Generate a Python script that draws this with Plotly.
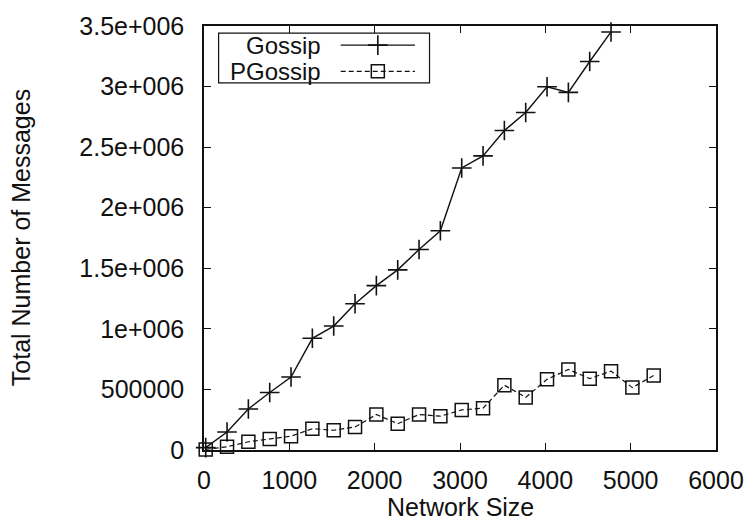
import plotly.graph_objects as go

# Network sizes at which each protocol was measured
gossip_sizes = [20, 270, 520, 770, 1020, 1270, 1520, 1770, 2020, 2270,
                2520, 2770, 3020, 3270, 3520, 3770, 4020, 4270, 4520, 4770]
gossip_msgs = [20000, 149000, 339000, 475000, 602000, 922000, 1023000, 1207000,
               1357000, 1487000, 1655000, 1810000, 2328000, 2428000, 2637000,
               2786000, 2998000, 2952000, 3207000, 3451000]

pgossip_sizes = [20, 270, 520, 770, 1020, 1270, 1520, 1770, 2020, 2270, 2520,
                 2770, 3020, 3270, 3520, 3770, 4020, 4270, 4520, 4770, 5020, 5270]
pgossip_msgs = [5000, 27000, 68000, 90000, 114000, 176000, 163000, 190000,
                293000, 217000, 293000, 279000, 331000, 345000, 535000, 434000,
                583000, 665000, 589000, 651000, 515000, 616000]

x_ticks = [0, 1000, 2000, 3000, 4000, 5000, 6000]
y_ticks = [0, 500000, 1000000, 1500000, 2000000, 2500000, 3000000, 3500000]
y_tick_text = ["0", "500000", "1e+006", "1.5e+006", "2e+006", "2.5e+006",
               "3e+006", "3.5e+006"]

series_names = ["Gossip", "PGossip"]

FONT = "Liberation Sans, Arial, Helvetica, sans-serif"
FS = 25
DASH = "5px,3px"
INK = "#111111"

fig = go.Figure()

fig.add_trace(go.Scatter(
    x=pgossip_sizes, y=pgossip_msgs, mode="lines+markers", name=series_names[1],
    line=dict(color=INK, width=1.2, dash=DASH),
    marker=dict(symbol="square-open", size=13, color=INK, line=dict(width=1.5)),
    cliponaxis=False, showlegend=False))

fig.add_trace(go.Scatter(
    x=gossip_sizes, y=gossip_msgs, mode="lines+markers", name=series_names[0],
    line=dict(color=INK, width=1.4),
    marker=dict(symbol="cross-thin-open", size=14, color=INK, line=dict(width=1.6)),
    cliponaxis=False, showlegend=False))

# ---- gnuplot-style key (label on the left, sample on the right) ----
key_box = dict(x0=0.0285, x1=0.4405, y0=0.866, y1=0.983)
key_rows = [0.955, 0.893]
key_text_x = 0.232
key_line = (0.267, 0.412)
key_mid = (key_line[0] + key_line[1]) / 2
KEY_FS = 24

shapes = [dict(type="rect", xref="paper", yref="paper", line=dict(color=INK, width=1.2),
               fillcolor="white", layer="below", **key_box)]
annotations = []
styles = [dict(dash="solid", width=1.4), dict(dash=DASH, width=1.2)]
for name, yy, st in zip(series_names, key_rows, styles):
    annotations.append(dict(text=name, xref="paper", yref="paper", x=key_text_x, y=yy,
                            xanchor="right", yanchor="middle", showarrow=False,
                            font=dict(family=FONT, size=KEY_FS, color=INK)))
    shapes.append(dict(type="line", xref="paper", yref="paper", x0=key_line[0], x1=key_line[1],
                       y0=yy, y1=yy, layer="above",
                       line=dict(color=INK, width=st["width"], dash=st["dash"])))

# key marker glyphs on an overlay axis spanning the plot area
fig.add_trace(go.Scatter(x=[key_mid], y=[key_rows[0]], xaxis="x2", yaxis="y2", mode="markers",
                         marker=dict(symbol="cross-thin-open", size=14, color=INK,
                                     line=dict(width=1.6)),
                         showlegend=False, hoverinfo="skip", cliponaxis=False))
fig.add_trace(go.Scatter(x=[key_mid], y=[key_rows[1]], xaxis="x2", yaxis="y2", mode="markers",
                         marker=dict(symbol="square-open", size=13, color=INK,
                                     line=dict(width=1.5)),
                         showlegend=False, hoverinfo="skip", cliponaxis=False))

axis_common = dict(showgrid=False, zeroline=False, showline=True, linecolor=INK,
                   linewidth=1.5, mirror="ticks", ticks="inside", ticklen=7,
                   tickwidth=1.2, tickcolor=INK,
                   tickfont=dict(family=FONT, size=FS, color=INK))

fig.update_layout(
    width=756, height=524,
    margin=dict(l=204, r=35, t=20, b=74),
    paper_bgcolor="white", plot_bgcolor="white",
    showlegend=False,
    xaxis=dict(range=[0, 6000], tickvals=x_ticks, ticklabelstandoff=7, **axis_common),
    yaxis=dict(range=[0, 3500000], tickvals=y_ticks, ticktext=y_tick_text,
               ticklabelstandoff=13, **axis_common),
    xaxis2=dict(range=[0, 1], overlaying="x", visible=False),
    yaxis2=dict(range=[0, 1], overlaying="y", visible=False),
    shapes=shapes,
)

annotations.append(dict(text="Network Size", xref="paper", yref="paper", x=0.5, y=-0.134,
                        xanchor="center", yanchor="middle", showarrow=False,
                        font=dict(family=FONT, size=FS, color=INK)))
annotations.append(dict(text="Total Number of Messages", xref="paper", yref="paper",
                        x=-0.357, y=0.5, xanchor="center", yanchor="middle", textangle=-90,
                        showarrow=False, font=dict(family=FONT, size=FS, color=INK)))
fig.update_layout(annotations=annotations)

fig.write_html("out.html")
